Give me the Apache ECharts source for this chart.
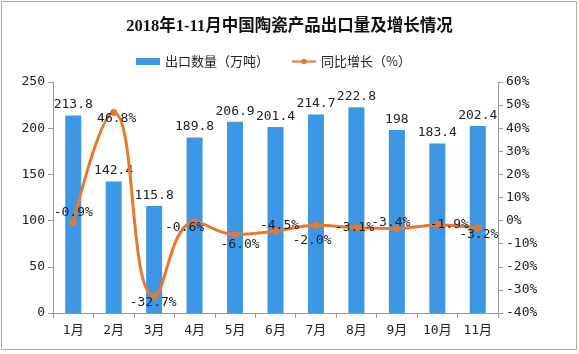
<!DOCTYPE html>
<html>
<head>
<meta charset="utf-8">
<style>
html, body { margin: 0; padding: 0; background: #fff; }
#chart { width: 579px; height: 354px; }
</style>
<script src="https://cdn.jsdelivr.net/npm/echarts@6/dist/echarts.min.js"></script>
</head>
<body>
<div id="chart"></div>
<script>
var months = ['1月', '2月', '3月', '4月', '5月', '6月', '7月', '8月', '9月', '10月', '11月'];
var exportQty = [213.8, 142.4, 115.8, 189.8, 206.9, 201.4, 214.7, 222.8, 198, 183.4, 202.4];
var growth = [-0.9, 46.8, -32.7, -0.6, -6.0, -4.5, -2.0, -3.1, -3.4, -1.9, -3.2];
var growthText = ['-0.9%', '46.8%', '-32.7%', '-0.6%', '-6.0%', '-4.5%', '-2.0%', '-3.1%', '-3.4%', '-1.9%', '-3.2%'];

// label offsets for the line, picked by eye
var labelOffset = [[0, -10], [3, 6], [-1, 6], [-10, 6], [5, 10], [4, -5], [-4, 15], [-2, 0], [-6, -6], [12, 0], [1, 7]];

var numFont = 'DejaVu Sans Mono, Noto Sans CJK SC';

var chart = echarts.init(document.getElementById('chart'));

chart.setOption({
	backgroundColor: '#fff',
	animation: false,
	title: {
		text: '2018年1-11月中国陶瓷产品出口量及增长情况',
		left: 'center',
		top: 13,
		textStyle: {
			fontFamily: 'Liberation Serif, Noto Sans CJK SC',
			fontSize: 16.5,
			fontWeight: 'bold',
			color: '#111'
		}
	},
	legend: {
		top: 50,
		left: 131,
		itemGap: 22,
		textStyle: { fontSize: 13, color: '#222', fontFamily: 'Noto Sans CJK SC' },
		data: [
			{ name: '出口数量（万吨）', icon: 'rect' },
			{ name: '同比增长（%）' }
		],
		itemWidth: 24,
		itemHeight: 7
	},
	graphic: [{
		type: 'rect',
		shape: { x: 1.5, y: 1.5, width: 575, height: 348 },
		style: { fill: 'none', stroke: '#aaa', lineWidth: 1 }
	}],
	grid: { left: 53, right: 81, top: 82, bottom: 41 },
	xAxis: {
		type: 'category',
		data: months,
		axisLine: { lineStyle: { color: '#999' } },
		axisTick: { show: true, length: 5, lineStyle: { color: '#999' } },
		axisLabel: { color: '#222', fontSize: 13, margin: 11, fontFamily: numFont }
	},
	yAxis: [
		{
			type: 'value',
			min: 0,
			max: 250,
			interval: 50,
			splitLine: { show: false },
			axisLine: { show: true, lineStyle: { color: '#999' } },
			axisTick: { show: true, length: 5, lineStyle: { color: '#999' } },
			axisLabel: { color: '#222', fontSize: 13, margin: 8, fontFamily: numFont }
		},
		{
			type: 'value',
			min: -40,
			max: 60,
			interval: 10,
			splitLine: { show: false },
			axisLine: { show: true, lineStyle: { color: '#999' } },
			axisTick: { show: true, length: 5, lineStyle: { color: '#999' } },
			axisLabel: { color: '#222', fontSize: 13, margin: 8, fontFamily: numFont, formatter: '{value}%' }
		}
	],
	series: [
		{
			name: '出口数量（万吨）',
			type: 'bar',
			data: exportQty,
			barWidth: 16,
			itemStyle: { color: '#3d97e6' },
			label: {
				show: true,
				position: 'top',
				distance: 4,
				color: '#222',
				fontSize: 13,
				fontFamily: numFont
			}
		},
		{
			name: '同比增长（%）',
			type: 'line',
			yAxisIndex: 1,
			smooth: 0.45,
			symbol: 'circle',
			symbolSize: 7,
			lineStyle: { color: '#e8782f', width: 3 },
			itemStyle: { color: '#e8782f' },
			data: growth.map(function (v, i) {
				return {
					value: v,
					label: {
						show: true,
						position: 'inside',
						offset: labelOffset[i],
						formatter: growthText[i],
						color: '#222',
						fontSize: 13,
						fontFamily: numFont
					}
				};
			})
		}
	]
});
</script>
</body>
</html>
